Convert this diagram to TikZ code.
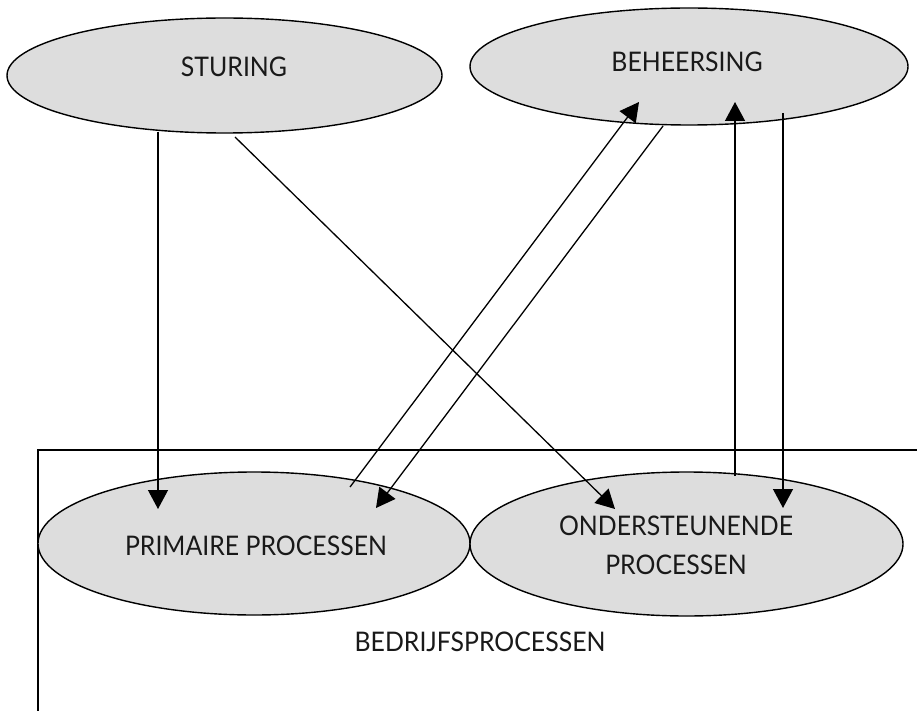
\documentclass[tikz,border=0pt]{standalone}
\usepackage{fontspec}
\setmainfont{Lato}[FakeStretch=0.92]
\usetikzlibrary{shapes.geometric,arrows.meta}
\definecolor{ellfill}{HTML}{DDDDDD}
\tikzset{
  ell/.style={ellipse,draw=black,line width=1.4pt,fill=ellfill,inner sep=0pt},
  lbl/.style={font=\fontsize{27}{39}\selectfont,text=black!90,inner sep=0pt,align=center},
  arr/.style={line width=1.3pt,-{Triangle[length=19pt,width=20pt]}},
  plain/.style={line width=1.3pt}
}
\begin{document}
\begin{tikzpicture}[x=1pt,y=-1pt]
\useasboundingbox (0,0) rectangle (917,711);
% frame of bedrijfsprocessen
\draw[plain] (917,450) -- (38,450) -- (38,711);
% ellipses
\node[ell,minimum width=435pt,minimum height=115pt] (sturing) at (224.5,75.5) {};
\node[ell,minimum width=438pt,minimum height=117pt] (beheersing) at (689,66.5) {};
\node[ell,minimum width=432pt,minimum height=143pt] (primaire) at (254,543.5) {};
\node[ell,minimum width=433pt,minimum height=144pt] (onderst) at (686.5,544) {};
% labels
\node[lbl] (tsturing) at (234,67) {STURING};
\node[lbl] (tbeheersing) at (687,62) {BEHEERSING};
\node[lbl] (tprimaire) at (256,546) {PRIMAIRE PROCESSEN};
\node[lbl] (tonderst) at (676,545) {ONDERSTEUNENDE\\PROCESSEN};
\node[lbl] (tbedrijf) at (480,642) {BEDRIJFSPROCESSEN};
% connector end points
\coordinate (s1) at (158,132);
\coordinate (p1) at (158,509);
\coordinate (s2) at (235,137);
\coordinate (o1) at (615,509);
\coordinate (p2) at (350,487);
\coordinate (b1) at (639,102);
\coordinate (b2) at (663,126);
\coordinate (p3) at (376,508);
\coordinate (o2) at (735,476);
\coordinate (b3) at (735,102);
\coordinate (b4) at (783,113);
\coordinate (o3) at (783,508);
% connectors
\draw[arr] (s1) -- (p1);
\draw[arr] (s2) -- (o1);
\draw[arr] (p2) -- (b1);
\draw[arr] (b2) -- (p3);
\draw[arr] (o2) -- (b3);
\draw[arr] (b4) -- (o3);
\end{tikzpicture}
\end{document}
